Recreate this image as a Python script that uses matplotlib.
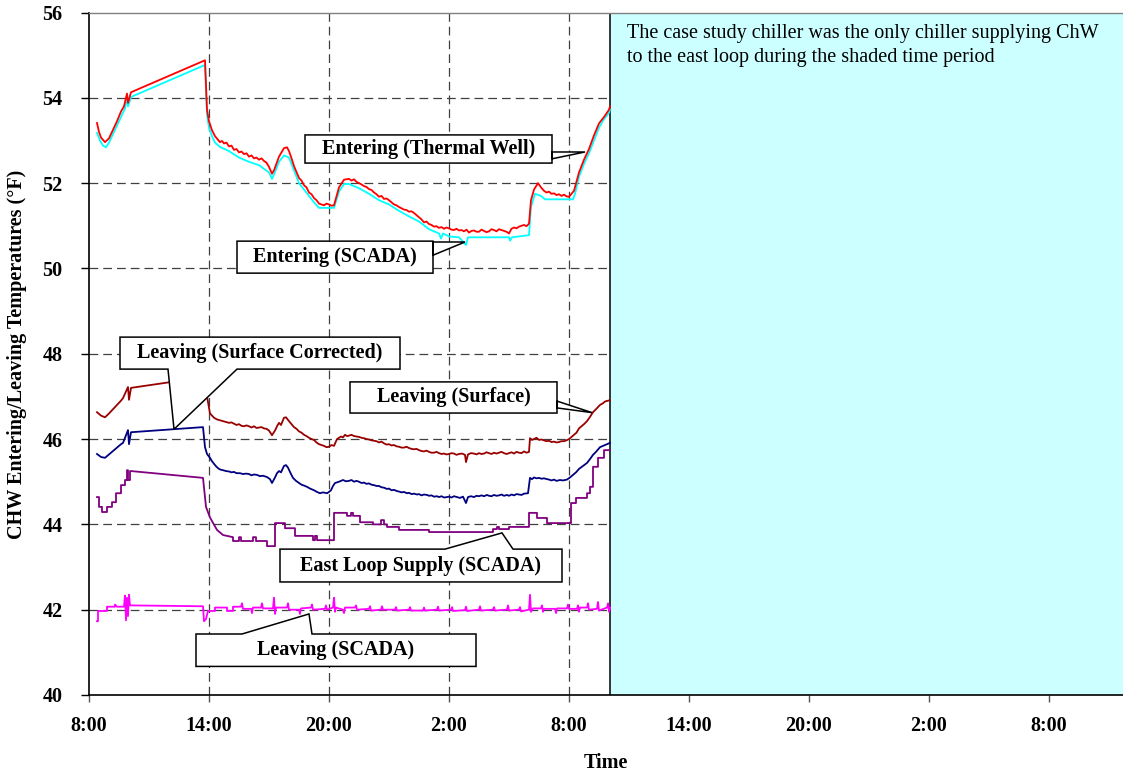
import matplotlib
matplotlib.use("Agg")
import matplotlib.pyplot as plt
from matplotlib.patches import Polygon

plt.rcParams['font.family'] = ['Liberation Serif', 'DejaVu Serif']

# ---- time axis (hours after 8:00 on the first day) ----
tick_hours = [0, 6, 12, 18, 24, 30, 36, 42, 48]
tick_labels = ['8:00', '14:00', '20:00', '2:00', '8:00', '14:00', '20:00', '2:00', '8:00']
shade_start = 26.05
x_end = 51.7

# ---- Entering (Thermal Well) ----
ent_tw_t = [0.4, 0.5, 0.6, 0.8, 1.0, 1.2, 1.4, 1.6, 1.75, 1.9, 1.95, 2.1,
            5.8, 5.9, 6.0, 6.15, 6.3, 6.55, 6.65, 6.75, 6.875, 7.0, 7.125, 7.25, 7.375, 7.5,
            7.625, 7.75, 7.875, 8.0, 8.125, 8.25, 8.375, 8.5, 8.625, 8.75, 8.875, 9.0, 9.15,
            9.25, 9.5, 9.75, 9.9, 10.0, 10.1, 10.25, 10.5, 10.625, 10.75, 10.875, 11.0, 11.125,
            11.25, 11.375, 11.5, 11.625, 11.75, 11.875, 12.0, 12.125, 12.25, 12.5, 12.75, 13.0,
            13.125, 13.25, 13.375, 13.5, 13.625, 13.75, 13.875, 14.0, 14.125, 14.25, 14.375,
            14.5, 14.625, 14.75, 14.875, 15.0, 15.125, 15.25, 15.375, 15.5, 15.625, 15.75,
            15.875, 16.0, 16.125, 16.25, 16.375, 16.5, 16.625, 16.75, 16.875, 17.0, 17.125,
            17.25, 17.375, 17.5, 17.625, 17.75, 17.875, 18.0, 18.125, 18.25, 18.375, 18.5,
            18.625, 18.75, 18.875, 19.0, 19.125, 19.25, 19.375, 19.5, 19.625, 19.75, 19.875,
            20.0, 20.125, 20.25, 20.375, 20.5, 20.625, 20.75, 20.875, 21.0, 21.125, 21.25,
            21.375, 21.5, 21.625, 21.75, 21.875, 22.0, 22.1, 22.25, 22.45, 22.6, 22.75, 22.875,
            23.0, 23.125, 23.25, 23.375, 23.5, 23.625, 23.75, 23.875, 24.0, 24.25, 24.5, 24.75,
            25.0, 25.25, 25.5, 25.75, 26.0, 26.05]
ent_tw_v = [53.41, 53.2, 53.07, 52.96, 53.05, 53.25, 53.45, 53.68, 53.8, 54.1, 53.88, 54.13,
            54.88, 53.72, 53.45, 53.24, 53.1, 52.96, 52.99, 52.93, 52.95, 52.86, 52.88, 52.78, 52.8, 52.72,
            52.74, 52.68, 52.7, 52.62, 52.65, 52.58, 52.6, 52.55, 52.58, 52.52, 52.48, 52.38, 52.22,
            52.3, 52.62, 52.82, 52.84, 52.75, 52.62, 52.4, 52.12, 52.06, 51.95, 51.9, 51.78, 51.74,
            51.65, 51.6, 51.52, 51.5, 51.48, 51.52, 51.5, 51.47, 51.48, 51.9, 52.08, 52.1,
            52.06, 52.09, 52.03, 52.0, 51.97, 51.93, 51.91, 51.86, 51.84, 51.78, 51.74,
            51.68, 51.7, 51.63, 51.64, 51.6, 51.55, 51.5, 51.48, 51.44, 51.41, 51.38,
            51.37, 51.33, 51.34, 51.3, 51.25, 51.2, 51.15, 51.08, 51.1, 51.04, 51.02,
            50.98, 50.99, 50.95, 50.97, 50.93, 50.96, 50.94, 50.91, 50.9, 50.93, 50.89,
            50.9, 50.87, 50.91, 50.84, 50.88, 50.89, 50.86, 50.86, 50.91, 50.88, 50.85,
            50.87, 50.92, 50.9, 50.87, 50.92, 50.9, 50.88, 50.86, 50.82, 50.93, 50.96,
            50.94, 50.98, 51.0, 51.02, 50.99, 51.05, 51.6, 51.85, 52.0, 51.9, 51.82, 51.78,
            51.8, 51.75, 51.76, 51.72, 51.74, 51.7, 51.73, 51.69, 51.68, 51.82, 52.25, 52.55,
            52.8, 53.12, 53.4, 53.55, 53.72, 53.8]

# ---- Entering (SCADA) ----
ent_sc_t = [0.4, 0.55, 0.7, 0.85, 1.0, 1.2, 1.4, 1.6, 1.8, 1.9, 1.95, 2.1,
            5.8, 5.9, 6.0, 6.15, 6.3, 6.55, 7.0, 7.5, 8.0, 8.5, 9.0, 9.15, 9.25, 9.5,
            9.75, 10.0, 10.25, 10.5, 10.75, 11.0, 11.25, 11.5, 12.25, 12.5, 12.75, 13.0,
            13.5, 14.0, 14.5, 15.0, 15.5, 16.0, 16.5, 17.0, 17.5, 17.6, 17.7, 18.0, 18.5,
            18.85, 18.95, 19.5, 20.0, 20.5, 21.0, 21.05, 21.15, 22.0, 22.1, 22.3, 22.6,
            22.8, 24.2, 24.3, 24.5, 24.75, 25.0, 25.25, 25.5, 25.75, 26.0, 26.05]
ent_sc_v = [53.18, 53.0, 52.88, 52.84, 52.95, 53.15, 53.35, 53.55, 53.75, 54.0, 53.8, 54.02,
            54.77, 53.6, 53.3, 53.1, 52.95, 52.85, 52.75, 52.6, 52.5, 52.42, 52.25, 52.1, 52.2, 52.5,
            52.65, 52.6, 52.3, 52.0, 51.85, 51.7, 51.55, 51.42, 51.42, 51.8, 51.98, 51.98,
            51.88, 51.75, 51.6, 51.5, 51.35, 51.22, 51.1, 50.92, 50.82, 50.7, 50.82, 50.75, 50.73,
            50.55, 50.73, 50.73, 50.73, 50.73, 50.73, 50.65, 50.73, 50.78, 51.45, 51.75, 51.7,
            51.62, 51.62, 51.75, 52.15, 52.45, 52.7, 53.0, 53.3, 53.5, 53.65, 53.72]

# ---- Leaving (Surface) ----
lv_sf_t = [0.4, 0.6, 0.8, 1.0, 1.2, 1.4, 1.6, 1.7, 1.95, 2.0, 2.1,
           5.75, 5.9, 6.05, 6.15, 6.25, 6.4, 6.55, 6.7, 6.85, 7.0, 7.125, 7.25, 7.375, 7.5,
           7.625, 7.75, 7.875, 8.0, 8.125, 8.25, 8.375, 8.5, 8.625, 8.75, 8.875, 9.0, 9.15,
           9.3, 9.4, 9.5, 9.6, 9.75, 9.85, 9.95, 10.0, 10.125, 10.25, 10.375, 10.5, 10.625,
           10.75, 10.875, 11.0, 11.125, 11.25, 11.375, 11.5, 11.625, 11.75, 11.875, 12.0,
           12.125, 12.25, 12.4, 12.5, 12.6, 12.7, 12.8, 12.9, 13.0, 13.125, 13.25, 13.375,
           13.5, 13.625, 13.75, 13.875, 14.0, 14.125, 14.25, 14.375, 14.5, 14.625, 14.75,
           14.875, 15.0, 15.125, 15.25, 15.375, 15.5, 15.625, 15.75, 15.875, 16.0, 16.125,
           16.25, 16.375, 16.5, 16.625, 16.75, 16.875, 17.0, 17.125, 17.25, 17.375, 17.5,
           17.625, 17.75, 17.875, 18.0, 18.125, 18.25, 18.375, 18.5, 18.65, 18.8, 18.85,
           18.95, 19.1, 19.25, 19.375, 19.5, 19.625, 19.75, 19.875, 20.0, 20.125, 20.25,
           20.375, 20.5, 20.625, 20.75, 20.875, 21.0, 21.125, 21.25, 21.375, 21.5, 21.625,
           21.75, 21.875, 22.0, 22.05, 22.15, 22.25, 22.375, 22.5, 22.625, 22.75, 22.875,
           23.0, 23.125, 23.25, 23.375, 23.5, 23.625, 23.75, 23.875, 24.0, 24.125, 24.25,
           24.375, 24.5, 24.625, 24.75, 24.9, 25.05, 25.2, 25.35, 25.55, 25.7, 25.8, 25.95,
           26.05]
lv_sf_v = [46.63, 46.55, 46.51, 46.6, 46.7, 46.8, 46.9, 46.96, 47.22, 46.92, 47.2,
           47.45, 47.0, 46.6, 46.55, 46.5, 46.46, 46.44, 46.42, 46.4, 46.38, 46.39, 46.36, 46.33, 46.35,
           46.31, 46.3, 46.32, 46.3, 46.27, 46.3, 46.26, 46.27, 46.28, 46.25, 46.24, 46.2, 46.09,
           46.2, 46.3, 46.38, 46.33, 46.5, 46.51, 46.45, 46.42, 46.35, 46.28, 46.24, 46.18, 46.15,
           46.1, 46.07, 46.03, 46.0, 45.98, 45.92, 45.88, 45.86, 45.84, 45.81, 45.82,
           45.86, 45.84, 46.0, 46.03, 46.06, 46.04, 46.1, 46.07, 46.08, 46.1, 46.07, 46.06,
           46.05, 46.03, 46.02, 46.0, 45.99, 45.97, 45.96, 45.95, 45.92, 45.94, 45.9,
           45.87, 45.88, 45.85, 45.86, 45.83, 45.82, 45.8, 45.8, 45.82, 45.79, 45.77,
           45.76, 45.77, 45.74, 45.72, 45.71, 45.73, 45.7, 45.68, 45.68, 45.7, 45.67,
           45.65, 45.66, 45.64, 45.65, 45.67, 45.66, 45.63, 45.65, 45.66, 45.63, 45.46,
           45.64, 45.67, 45.66, 45.64, 45.67, 45.65, 45.66, 45.69, 45.67, 45.65, 45.68,
           45.66, 45.68, 45.7, 45.67, 45.65, 45.67, 45.69, 45.66, 45.7, 45.68, 45.67,
           45.71, 45.68, 45.7, 46.02, 45.98, 46.0, 46.03, 45.98, 45.99, 45.97, 45.95,
           45.96, 45.93, 45.94, 45.92, 45.93, 45.95, 45.95, 45.97, 46.0, 46.05, 46.1,
           46.15, 46.25, 46.3, 46.35, 46.42, 46.52, 46.63, 46.7, 46.8, 46.84, 46.88, 46.9,
           46.91]

# ---- Leaving (Surface Corrected) ----
lv_sc_t = [0.4, 0.6, 0.8, 1.0, 1.2, 1.4, 1.6, 1.7, 1.95, 2.0, 2.1,
           5.7, 5.8, 5.9, 6.05, 6.15, 6.25, 6.375, 6.5, 6.6, 6.7, 6.85, 7.0, 7.125, 7.25,
           7.375, 7.55, 7.7, 7.85, 8.0, 8.125, 8.25, 8.4, 8.55, 8.7, 8.9, 9.05, 9.15, 9.3,
           9.4, 9.5, 9.6, 9.75, 9.85, 9.95, 10.0, 10.1, 10.2, 10.35, 10.5, 10.625, 10.75,
           10.9, 11.05, 11.25, 11.4, 11.55, 11.7, 11.9, 12.0, 12.1, 12.2, 12.3, 12.5, 12.7,
           12.85, 13.0, 13.125, 13.25, 13.375, 13.5, 13.625, 13.75, 13.875, 14.0, 14.125,
           14.25, 14.375, 14.5, 14.625, 14.75, 14.9, 15.0, 15.125, 15.25, 15.4, 15.5, 15.625,
           15.75, 15.9, 16.0, 16.125, 16.25, 16.4, 16.5, 16.625, 16.75, 16.9, 17.0, 17.125,
           17.25, 17.4, 17.5, 17.625, 17.75, 17.9, 18.0, 18.125, 18.25, 18.4, 18.55, 18.7,
           18.85, 18.95, 19.1, 19.25, 19.375, 19.5, 19.625, 19.75, 19.9, 20.0, 20.125, 20.25,
           20.375, 20.5, 20.625, 20.75, 20.9, 21.0, 21.125, 21.25, 21.375, 21.5, 21.625,
           21.75, 21.95, 22.05, 22.15, 22.25, 22.375, 22.5, 22.625, 22.75, 22.9, 23.0,
           23.125, 23.25, 23.375, 23.55, 23.7, 23.9, 24.05, 24.2, 24.35, 24.5, 24.7, 24.9,
           25.05, 25.2, 25.35, 25.55, 25.8, 26.05]
lv_sc_v = [45.65, 45.58, 45.56, 45.64, 45.72, 45.8, 45.88, 45.91, 46.21, 45.88, 46.16,
           46.28, 45.81, 45.65, 45.56, 45.48, 45.42, 45.35, 45.3, 45.28, 45.27, 45.25, 45.24, 45.22, 45.23,
           45.2, 45.2, 45.18, 45.19, 45.18, 45.15, 45.17, 45.16, 45.13, 45.14, 45.11, 45.06, 44.97, 45.1,
           45.2, 45.25, 45.22, 45.37, 45.39, 45.33, 45.28, 45.18, 45.09, 45.02, 44.97, 44.93, 44.91,
           44.88, 44.84, 44.8, 44.76, 44.73, 44.75, 44.73, 44.76, 44.8, 44.9, 44.97, 45.0, 45.04,
           45.01, 45.02, 45.04, 45.0, 45.02, 45.0, 44.97, 44.98, 44.95, 44.96, 44.93,
           44.92, 44.9, 44.9, 44.87, 44.86, 44.83, 44.84, 44.8, 44.81, 44.78, 44.77, 44.75,
           44.76, 44.73, 44.74, 44.71, 44.72, 44.7, 44.71, 44.68, 44.7, 44.69, 44.67, 44.68,
           44.65, 44.66, 44.64, 44.66, 44.63, 44.64, 44.65, 44.63, 44.66, 44.64, 44.62, 44.65,
           44.5, 44.64, 44.66, 44.64, 44.67, 44.66, 44.68, 44.66, 44.69, 44.67, 44.66, 44.69,
           44.67, 44.68, 44.7, 44.67, 44.69, 44.67, 44.7, 44.68, 44.71, 44.7, 44.69,
           44.72, 44.73, 45.09, 45.06, 45.1, 45.08, 45.09, 45.07, 45.08, 45.06, 45.05,
           45.03, 45.05, 45.02, 45.04, 45.03, 45.05, 45.1, 45.16, 45.22, 45.3, 45.37, 45.44,
           45.53, 45.63, 45.7, 45.81, 45.86, 45.91]

# ---- East Loop Supply (SCADA) ----
east_t = [0.4, 0.5, 0.5, 0.65, 0.65, 0.9, 0.9, 1.15, 1.15, 1.35, 1.35, 1.6, 1.6, 1.8, 1.8,
          1.9, 1.9, 1.95, 1.95, 2.05, 2.05, 2.1, 5.7, 5.85, 6.05, 6.4, 6.7, 7.2, 7.2, 7.5,
          7.5, 7.6, 7.6, 8.2, 8.2, 8.35, 8.35, 8.9, 8.9, 9.3, 9.3, 9.8, 9.8, 10.3, 10.3,
          11.2, 11.2, 11.3, 11.3, 11.4, 11.4, 12.25, 12.25, 12.9, 12.9, 13.1, 13.1, 13.2,
          13.2, 13.55, 13.55, 14.2, 14.2, 14.6, 14.6, 14.75, 14.75, 14.9, 14.9, 15.5, 15.5,
          17.0, 17.0, 20.2, 20.2, 20.4, 20.4, 20.5, 20.5, 21.0, 21.0, 22.0, 22.0, 22.4,
          22.4, 22.9, 22.9, 24.1, 24.1, 24.35, 24.35, 24.9, 24.9, 25.05, 25.05, 25.2, 25.2,
          25.45, 25.45, 25.75, 25.75, 26.05]
east_v = [44.64, 44.64, 44.41, 44.41, 44.29, 44.29, 44.41, 44.41, 44.52, 44.52, 44.73, 44.73,
          44.92, 44.92, 45.04, 45.04, 45.27, 45.27, 45.04, 45.04, 45.25, 45.25, 45.09, 44.41,
          44.16, 43.87, 43.75, 43.7, 43.61, 43.61, 43.7, 43.7, 43.61, 43.61, 43.7, 43.7, 43.61,
          43.61, 43.49, 43.49, 44.03, 44.03, 43.91, 43.91, 43.73, 43.73, 43.63, 43.63, 43.73,
          43.73, 43.63, 43.63, 44.27, 44.27, 44.2, 44.2, 44.27, 44.27, 44.2, 44.2, 44.05, 44.05,
          44.0, 44.0, 44.1, 44.1, 44.0, 44.0, 43.94, 43.94, 43.87, 43.87, 43.82, 43.82, 43.89,
          43.89, 43.94, 43.94, 43.89, 43.89, 43.94, 43.94, 44.27, 44.27, 44.15, 44.15, 44.03,
          44.03, 44.5, 44.5, 44.62, 44.62, 44.73, 44.73, 44.88, 44.88, 45.35, 45.35, 45.56,
          45.56, 45.74, 45.74]

# ---- Leaving (SCADA) ----
lv_scada_t = [0.4, 0.45, 0.45, 0.9, 0.9, 1.3, 1.3, 1.4, 1.75, 1.8, 1.85, 1.9, 1.95, 2.0, 2.05,
              2.2, 5.7, 5.75, 5.85, 5.95, 6.3, 6.3, 6.9, 6.9, 7.2, 7.2, 7.6, 7.65, 7.7, 8.1,
              8.15, 8.2, 8.6, 8.65, 8.7, 9.2, 9.25, 9.3, 9.35, 9.9, 9.95, 10.0, 10.5, 10.55,
              10.6, 11.1, 11.15, 11.2, 11.8, 11.85, 11.9, 12.2, 12.25, 12.3, 12.35, 12.7, 12.75,
              12.8, 13.3, 13.35, 13.4, 14.0, 14.05, 14.1, 14.6, 14.65, 14.7, 15.3, 15.35, 15.4,
              16.0, 16.05, 16.1, 16.7, 16.75, 16.8, 17.4, 17.45, 17.5, 18.1, 18.15, 18.2, 18.8,
              18.85, 18.9, 19.5, 19.55, 19.6, 20.2, 20.25, 20.3, 20.9, 20.95, 21.0, 21.5, 21.55,
              21.6, 22.0, 22.05, 22.1, 22.2, 22.6, 22.65, 22.7, 22.75, 23.3, 23.35, 23.4, 23.9,
              23.95, 24.0, 24.4, 24.45, 24.5, 24.55, 24.9, 24.95, 25.0, 25.4, 25.45, 25.5, 25.9,
              25.95, 26.0, 26.05]
lv_scada_v = [41.73, 41.73, 41.97, 41.97, 42.07, 42.07, 42.12, 42.07, 42.07, 42.33, 41.75, 42.28,
              41.85, 42.35, 42.1, 42.1, 42.08, 41.73, 41.78, 41.97, 41.97, 42.05, 42.05, 41.97,
              41.97, 42.07, 42.07, 42.15, 42.02, 42.02, 41.92, 42.05, 42.05, 42.15, 42.03, 42.03,
              42.28, 41.9, 42.05, 42.05, 42.15, 42.0, 42.0, 41.9, 42.03, 42.05, 42.12, 42.0, 42.02,
              42.1, 42.0, 42.05, 42.28, 41.95, 42.05, 42.0, 41.92, 42.05, 42.05, 42.1, 42.0, 42.02,
              42.08, 41.98, 42.0, 42.08, 42.0, 42.0, 42.06, 41.98, 42.0, 42.06, 41.98, 41.98, 42.05,
              41.98, 42.0, 42.07, 41.98, 42.0, 42.06, 41.97, 41.99, 42.07, 41.97, 42.0, 42.08, 41.98,
              42.0, 42.06, 41.98, 42.0, 42.1, 41.98, 42.0, 42.06, 41.96, 42.0, 42.35, 41.95, 42.03,
              42.03, 42.1, 41.95, 42.02, 42.02, 41.92, 42.03, 42.03, 42.12, 42.02, 42.02, 42.1,
              41.95, 42.05, 42.05, 42.15, 42.0, 42.02, 42.18, 41.98, 42.05, 42.15, 41.95, 42.05]

SERIF_BOLD = dict(family=['Liberation Serif', 'DejaVu Serif'], weight='bold')

fig = plt.figure(figsize=(11.23, 7.71), dpi=100)
ax = fig.add_axes([89 / 1123, 1 - 695 / 771, 1 - 89 / 1123, (695 - 12.5) / 771])
ax.set_xlim(0, x_end)
ax.set_ylim(40, 56)

# dashed grid
grid_style = dict(color='#404040', lw=0.9, ls=(0, (7, 4)), zorder=1)
for yv in [42, 44, 46, 48, 50, 52, 54]:
    ax.axhline(yv, **grid_style)
for xv in tick_hours[1:]:
    ax.axvline(xv, **grid_style)

# shaded period
ax.axvspan(shade_start, x_end, facecolor='#CCFFFF', edgecolor='none', zorder=2)
ax.axvline(shade_start, color='black', lw=1.1, zorder=3)
ax.text(shade_start + 0.85, 55.74,
        'The case study chiller was the only chiller supplying ChW\n'
        'to the east loop during the shaded time period',
        family=['Liberation Serif', 'DejaVu Serif'], fontsize=14.5, va='top', ha='left',
        linespacing=1.4, zorder=4)

lw = 1.3
ax.plot(ent_sc_t, ent_sc_v, color='#00FFFF', lw=lw, zorder=5)
ax.plot(ent_tw_t, ent_tw_v, color='#FF0000', lw=lw, zorder=6)
ax.plot(lv_sf_t, lv_sf_v, color='#990000', lw=lw, zorder=5)
ax.plot(lv_sc_t, lv_sc_v, color='#000080', lw=lw, zorder=5)
ax.plot(east_t, east_v, color='#800080', lw=lw, zorder=5)
ax.plot(lv_scada_t, lv_scada_v, color='#FF00FF', lw=lw, zorder=5)


def callout(text, box, side, base, tip):
    x0, x1, y0, y1 = box
    b0, b1 = base
    if side == 'right':
        pts = [(x0, y0), (x1, y0), (x1, b1), tip, (x1, b0), (x1, y1), (x0, y1)]
    elif side == 'top':
        pts = [(x0, y0), (x1, y0), (x1, y1), (b1, y1), tip, (b0, y1), (x0, y1)]
    else:  # bottom
        pts = [(x0, y0), (b0, y0), tip, (b1, y0), (x1, y0), (x1, y1), (x0, y1)]
    ax.add_patch(Polygon(pts, closed=True, facecolor='white', edgecolor='black',
                         lw=1.1, zorder=8, joinstyle='miter'))
    ax.text((x0 + x1) / 2, (y0 + y1) / 2, text, ha='center', va='center',
            fontsize=14.5, zorder=9, **SERIF_BOLD)


callout('Entering (Thermal Well)', (10.8, 23.15, 52.47, 53.13), 'right', (52.57, 52.73), (24.8, 52.73))
callout('Entering (SCADA)', (7.4, 17.2, 49.89, 50.64), 'right', (50.31, 50.62), (18.8, 50.62))
callout('Leaving (Surface Corrected)', (1.55, 15.55, 47.64, 48.39), 'bottom', (3.95, 7.4), (4.25, 46.23))
callout('Leaving (Surface)', (13.05, 23.4, 46.61, 47.34), 'right', (46.73, 46.89), (25.15, 46.62))
callout('East Loop Supply (SCADA)', (9.55, 23.65, 42.65, 43.42), 'top', (17.8, 21.2), (20.65, 43.8))
callout('Leaving (SCADA)', (5.35, 19.35, 40.67, 41.43), 'top', (7.65, 11.15), (11.0, 41.9))

# axes styling
ax.set_xticks(tick_hours)
ax.set_xticklabels(tick_labels)
ax.set_yticks([40, 42, 44, 46, 48, 50, 52, 54, 56])
for lab in ax.get_xticklabels() + ax.get_yticklabels():
    lab.set_fontfamily(['Liberation Serif', 'DejaVu Serif'])
    lab.set_fontweight('bold')
    lab.set_fontsize(14.5)
ax.tick_params(axis='x', direction='out', length=5, width=1, pad=10, color='#555555')
ax.tick_params(axis='y', direction='out', length=6, width=1, pad=13)
ax.spines['right'].set_visible(False)
ax.spines['top'].set_color('#808080')
ax.spines['top'].set_linewidth(1.0)
ax.spines['left'].set_linewidth(1.2)
ax.spines['bottom'].set_linewidth(1.2)
for s in ax.spines.values():
    s.set_zorder(10)

ax.set_xlabel('Time', fontsize=14.5, labelpad=12, **SERIF_BOLD)
fig.text(17.5 / 1123, 1 - 354 / 771, 'CHW Entering/Leaving Temperatures (\u00b0F)',
         rotation=90, ha='center', va='center', fontsize=14.5, **SERIF_BOLD)

fig.savefig('out.png', dpi=100)
